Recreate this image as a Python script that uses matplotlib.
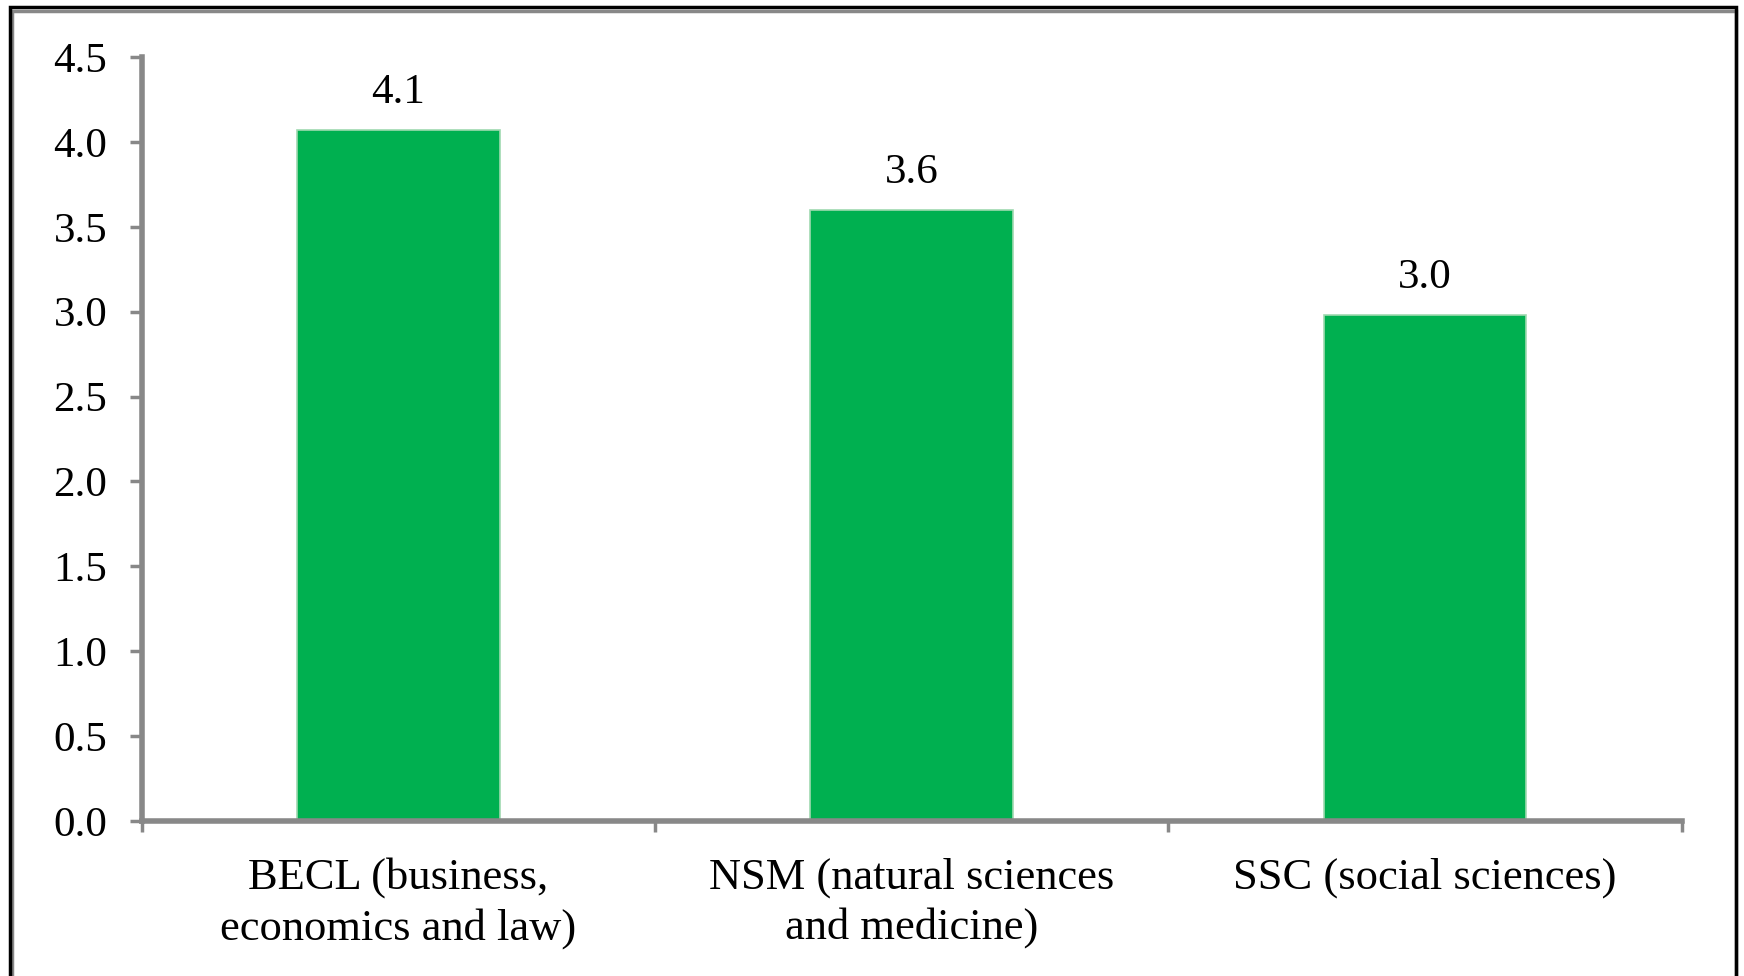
import matplotlib
matplotlib.use("Agg")
import matplotlib.pyplot as plt
from matplotlib.patches import Rectangle

categories = ["BECL (business,\neconomics and law)",
              "NSM (natural sciences\nand medicine)",
              "SSC (social sciences)"]
values = [4.07, 3.60, 2.98]
yticks = [0.0, 0.5, 1.0, 1.5, 2.0, 2.5, 3.0, 3.5, 4.0, 4.5]

plt.rcParams['font.family'] = ['Liberation Serif', 'DejaVu Serif']

fig = plt.figure(figsize=(17.44, 9.76), dpi=100)
ax = fig.add_axes([0.0814, 0.1588, 0.8828, 0.7828])

x = list(range(len(values)))
bars = ax.bar(x, values, width=0.395, color='#00B050', edgecolor='#9fd9b0', linewidth=1.2)
for xi, v in zip(x, values):
    ax.annotate('%.1f' % v, (xi, v), xytext=(0, 13), textcoords='offset points',
                ha='center', va='bottom', fontsize=31)

ax.set_xlim(-0.5, len(values) - 0.5)
ax.set_ylim(0, 4.5)
ax.set_yticks(yticks)
ax.set_yticklabels(['%.1f' % t for t in yticks], fontsize=31)
ax.set_xticks(x)
ax.set_xticklabels(categories, fontsize=32, linespacing=1.3)
ax.set_xticks([-0.5, 0.5, 1.5, 2.5], minor=True)

for s in ['top', 'right']:
    ax.spines[s].set_visible(False)
for s in ['left', 'bottom']:
    ax.spines[s].set_color('#888888')
    ax.spines[s].set_linewidth(4)

ax.tick_params(axis='y', direction='out', length=9, width=2.5, color='#888888', pad=16)
ax.tick_params(axis='x', which='major', length=0, pad=26)
ax.tick_params(axis='x', which='minor', direction='out', length=8, width=2.5, color='#888888')

# outer frame of the picture
fig.patches.append(Rectangle((12 / 1744, -0.05), (1736 - 12) / 1744, 1.05 - 10.5 / 976,
                             transform=fig.transFigure, fill=False,
                             edgecolor='#888888', linewidth=2.5))
fig.patches.append(Rectangle((10 / 1744, -0.05), (1736 - 10) / 1744, 1.05 - 7.5 / 976,
                             transform=fig.transFigure, fill=False,
                             edgecolor='black', linewidth=2.5))

fig.savefig('out.png', dpi=100)
